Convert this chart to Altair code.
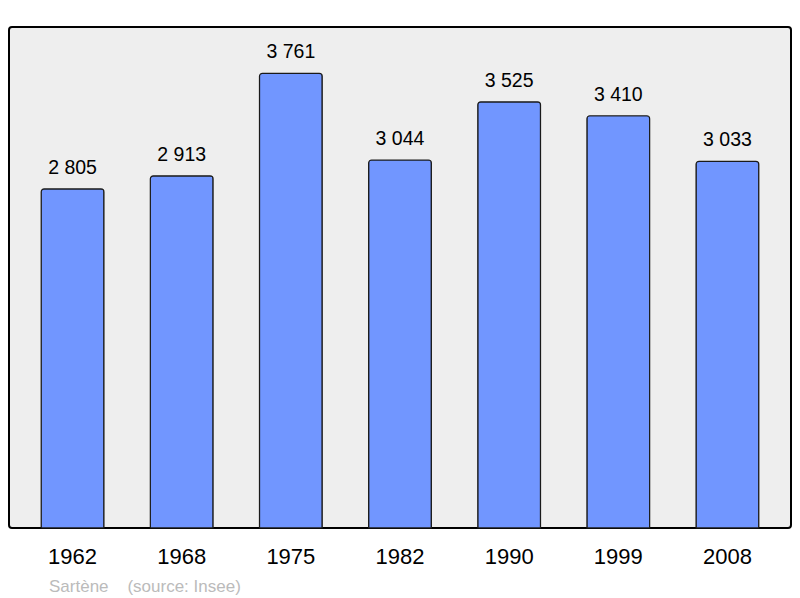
import altair as alt
import pandas as pd

years = ["1962", "1968", "1975", "1982", "1990", "1999", "2008"]
population = [2805, 2913, 3761, 3044, 3525, 3410, 3033]
labels = ["2 805", "2 913", "3 761", "3 044", "3 525", "3 410", "3 033"]

df = pd.DataFrame({"year": years, "pop": population, "label": labels})

x = alt.X("year:N", sort=years, title=None,
          scale=alt.Scale(paddingInner=0.425, paddingOuter=0.295),
          axis=alt.Axis(labelAngle=0, ticks=False, domain=False, tickSize=0,
                        labelFontSize=22, labelFont="Liberation Sans",
                        labelColor="#000000", labelPadding=35,
                        labelBaseline="alphabetic"))
y = alt.Y("pop:Q", title=None, axis=None,
          scale=alt.Scale(domain=[0, 4144], nice=False, zero=True))

bars = alt.Chart(df).mark_bar(
    color="#7196ff", stroke="#1a1a1a", strokeWidth=1.2,
    cornerRadiusTopLeft=3, cornerRadiusTopRight=3
).encode(x=x, y=y)

text = alt.Chart(df).mark_text(
    baseline="alphabetic", dy=-15, fontSize=19.5, font="Liberation Sans",
    color="#000000"
).encode(x=x, y=y, text="label:N")

chart = (bars + text).properties(
    width=782, height=501,
    background="#ffffff",
    autosize=alt.AutoSizeParams(type="none"),
    padding={"left": 1, "top": 19, "right": 1, "bottom": 68},
    title=alt.TitleParams(
        text="Sartène\u00a0\u00a0\u00a0\u00a0(source: Insee)",
        orient="bottom", anchor="start", frame="group", dx=40, offset=25,
        fontSize=17, font="Liberation Sans", fontWeight="normal",
        color="#bbbbbb", baseline="alphabetic"
    )
).configure_view(
    fill="#eeeeee", stroke="#000000", strokeWidth=2, cornerRadius=3
)

chart.save("out.html", embed_options={"renderer": "svg", "actions": False})
